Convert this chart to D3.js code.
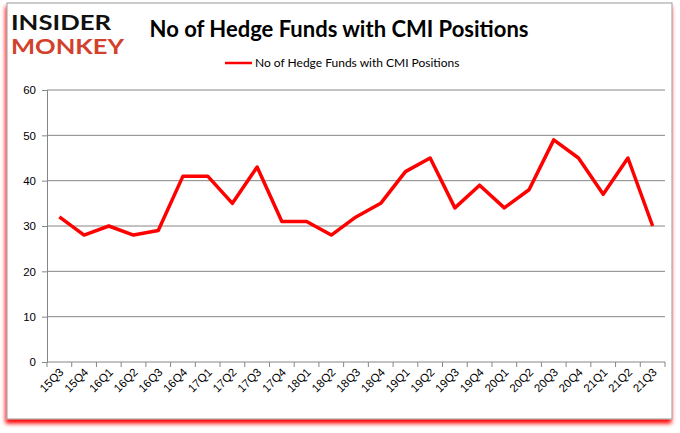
<!DOCTYPE html>
<html>
<head>
<meta charset="utf-8">
<title>No of Hedge Funds with CMI Positions</title>
<style>
  body { margin: 0; background: #fff; }
  svg text { font-family: Lato, "Open Sans", sans-serif; }
</style>
</head>
<body>
<script src="https://cdnjs.cloudflare.com/ajax/libs/d3/7.8.5/d3.min.js"></script>
<div id="vis"></div>
<script>

var quarters = ["15Q3","15Q4","16Q1","16Q2","16Q3","16Q4","17Q1","17Q2","17Q3","17Q4",
  "18Q1","18Q2","18Q3","18Q4","19Q1","19Q2","19Q3","19Q4","20Q1","20Q2",
  "20Q3","20Q4","21Q1","21Q2","21Q3"];
var funds = [32,28,30,28,29,41,41,35,43,31,31,28,32,35,42,45,34,39,34,38,49,45,37,45,30];
var yTicks = [0,10,20,30,40,50,60];
var seriesName = "No of Hedge Funds with CMI Positions";

var W = 680, H = 433;
var pLeft = 47, pRight = 665, pTop = 90, pBottom = 362;

var svg = d3.select("#vis").append("svg")
  .attr("width", W).attr("height", H);

// frame with red shadow
var defs = svg.append("defs");
var f = defs.append("filter").attr("id", "sh").attr("x", "-5%").attr("y", "-5%").attr("width", "110%").attr("height", "115%");
f.append("feGaussianBlur").attr("in", "SourceAlpha").attr("stdDeviation", 2).attr("result", "b");
f.append("feOffset").attr("in", "b").attr("dx", -1).attr("dy", 4).attr("result", "o");
f.append("feFlood").attr("flood-color", "#ff0000");
f.append("feComposite").attr("in2", "o").attr("operator", "in").attr("result", "c");
var m = f.append("feMerge");
m.append("feMergeNode").attr("in", "c");
m.append("feMergeNode").attr("in", "SourceGraphic");

svg.append("rect")
  .attr("x", 7).attr("y", 3).attr("width", 665).attr("height", 416)
  .attr("fill", "#fff").attr("stroke", "#9a9a9a").attr("stroke-width", 1)
  .attr("filter", "url(#sh)");

// logo
svg.append("text").attr("x", 11).attr("y", 30)
  .attr("font-family", "DejaVu Sans").attr("font-weight", "bold")
  .attr("font-size", 21).attr("fill", "#111")
  .attr("textLength", 100).attr("lengthAdjust", "spacingAndGlyphs")
  .text("INSIDER");
svg.append("text").attr("x", 11).attr("y", 54)
  .attr("font-family", "DejaVu Sans").attr("font-weight", "bold")
  .attr("font-size", 21).attr("fill", "#d2412b")
  .attr("textLength", 113).attr("lengthAdjust", "spacingAndGlyphs")
  .text("MONKEY");

// title
svg.append("text").attr("x", 339).attr("y", 37)
  .attr("text-anchor", "middle").attr("font-size", 22).attr("font-weight", "bold")
  .attr("fill", "#000").text(seriesName);

// legend
svg.append("line").attr("x1", 225).attr("x2", 252).attr("y1", 63).attr("y2", 63)
  .attr("stroke", "#ff0000").attr("stroke-width", 2.5);
svg.append("text").attr("x", 255).attr("y", 67)
  .attr("font-size", 12).attr("fill", "#000").text(seriesName);

var x = d3.scaleBand().domain(quarters).range([pLeft, pRight]);
var y = d3.scaleLinear().domain([0, 60]).range([pBottom, pTop]);

// grid
svg.append("g").selectAll("line").data(yTicks.filter(function(d) { return d > 0; }))
  .enter().append("line")
  .attr("x1", pLeft).attr("x2", pRight)
  .attr("y1", function(d) { return y(d); }).attr("y2", function(d) { return y(d); })
  .attr("stroke", "#868686").attr("stroke-width", 1);

// y axis
var ya = svg.append("g").attr("transform", "translate(" + pLeft + ",0)")
  .call(d3.axisLeft(y).tickValues(yTicks).tickSize(5).tickPadding(6));
ya.select(".domain").attr("stroke", "#868686");
ya.selectAll(".tick line").attr("stroke", "#868686");
ya.selectAll("text").attr("font-size", 11.5).attr("fill", "#000")
  .style("font-family", "'Liberation Sans', sans-serif");

// x axis with ticks between categories
var xa = svg.append("g").attr("transform", "translate(0," + pBottom + ")");
xa.append("line").attr("x1", pLeft).attr("x2", pRight).attr("stroke", "#868686");
xa.selectAll("line.tk").data(quarters.concat(["end"])).enter().append("line")
  .attr("class", "tk")
  .attr("x1", function(d, i) { return pLeft + i * x.bandwidth(); })
  .attr("x2", function(d, i) { return pLeft + i * x.bandwidth(); })
  .attr("y1", 0).attr("y2", 5).attr("stroke", "#868686");
xa.selectAll("text").data(quarters).enter().append("text")
  .attr("transform", function(d) {
    return "translate(" + (x(d) + x.bandwidth() / 2 + 5) + ",11) rotate(-45)";
  })
  .attr("text-anchor", "end").attr("font-size", 11.5).attr("fill", "#000")
  .style("font-family", "'Liberation Sans', sans-serif")
  .text(function(d) { return d; });

// line
var line = d3.line()
  .x(function(d, i) { return x(quarters[i]) + x.bandwidth() / 2; })
  .y(function(d) { return y(d); });
svg.append("path").datum(funds)
  .attr("d", line).attr("fill", "none")
  .attr("stroke", "#ff0000").attr("stroke-width", 3.5)
  .attr("stroke-linejoin", "round");

</script>
</body>
</html>
